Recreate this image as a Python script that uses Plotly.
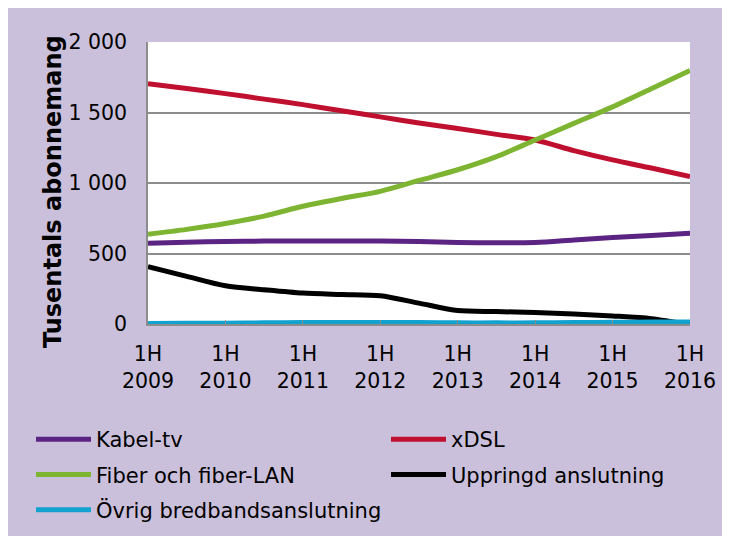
import plotly.graph_objects as go

periods = ["1H 2009", "2H 2009", "1H 2010", "2H 2010", "1H 2011", "2H 2011", "1H 2012", "2H 2012",
           "1H 2013", "2H 2013", "1H 2014", "2H 2014", "1H 2015", "2H 2015", "1H 2016"]
tick_labels = ["1H<br>2009", "1H<br>2010", "1H<br>2011", "1H<br>2012",
               "1H<br>2013", "1H<br>2014", "1H<br>2015", "1H<br>2016"]
y_tick_vals = [0, 500, 1000, 1500, 2000]
y_tick_text = ["0", "500", "1 000", "1 500", "2 000"]

kabel_tv = [572, 580, 585, 588, 589, 589, 588, 585, 578, 576, 578, 596, 614, 628, 643]
xdsl = [1704, 1670, 1634, 1595, 1556, 1512, 1469, 1425, 1387, 1345, 1305, 1230, 1164, 1106, 1046]
fiber = [636, 671, 713, 765, 835, 890, 941, 1018, 1094, 1187, 1305, 1423, 1540, 1669, 1798]
uppringd = [406, 338, 271, 243, 219, 209, 200, 148, 95, 88, 81, 71, 57, 38, -5]
ovrig = [3, 5, 5, 8, 10, 10, 10, 10, 8, 8, 8, 10, 12, 14, 15]

series = [
    ("Kabel-tv", kabel_tv, "#5b2483", "legend"),
    ("xDSL", xdsl, "#c0102f", "legend2"),
    ("Fiber och fiber-LAN", fiber, "#7db532", "legend"),
    ("Uppringd anslutning", uppringd, "#000000", "legend2"),
    ("Övrig bredbandsanslutning", ovrig, "#12a2d0", "legend"),
]

xs = list(range(len(periods)))
fig = go.Figure()
for name, vals, color, leg in series:
    fig.add_trace(go.Scatter(x=xs, y=vals, name=name, mode="lines", legend=leg, legendgroup=name,
                             line=dict(color=color, width=5, shape="spline", smoothing=0.8),
                             text=periods, hovertemplate="%{text}: %{y}<extra>" + name + "</extra>"))

PURPLE = "#cbc0db"
GRID = "#8c8c8c"
leg_common = dict(orientation="v", xanchor="left", yanchor="top", bgcolor="rgba(0,0,0,0)",
                  font=dict(size=21), itemwidth=55, tracegroupgap=5, traceorder="grouped")
fig.update_layout(
    width=730, height=536,
    margin=dict(l=140, r=48, t=34, b=220, autoexpand=False),
    paper_bgcolor=PURPLE, plot_bgcolor="white",
    font=dict(family="DejaVu Sans", size=20.5, color="black"),
    showlegend=True,
    legend=dict(x=(31 - 148) / 542, y=-0.337, **leg_common),
    legend2=dict(x=(386 - 148) / 542, y=-0.337, **leg_common),
    xaxis=dict(range=[0, 14], tickvals=xs[::2], ticktext=tick_labels, showgrid=False,
               showline=True, linecolor=GRID, linewidth=1.5, ticks="inside",
               ticklen=4, tickcolor=GRID, ticklabelstandoff=11, zeroline=False),
    yaxis=dict(range=[0, 2000], tickvals=y_tick_vals, ticktext=y_tick_text, showgrid=True,
               gridcolor=GRID, gridwidth=1.5, showline=True, linecolor=GRID,
               linewidth=1.5, ticks="", ticklabelstandoff=15, zeroline=False),
    annotations=[dict(text="<b>Tusentals abonnemang</b>", xref="paper", yref="paper",
                      x=(53 - 148) / 542, y=0.468, xanchor="center", yanchor="middle",
                      textangle=-90, showarrow=False, font=dict(size=24))],
)
fig.write_html("out.html")
